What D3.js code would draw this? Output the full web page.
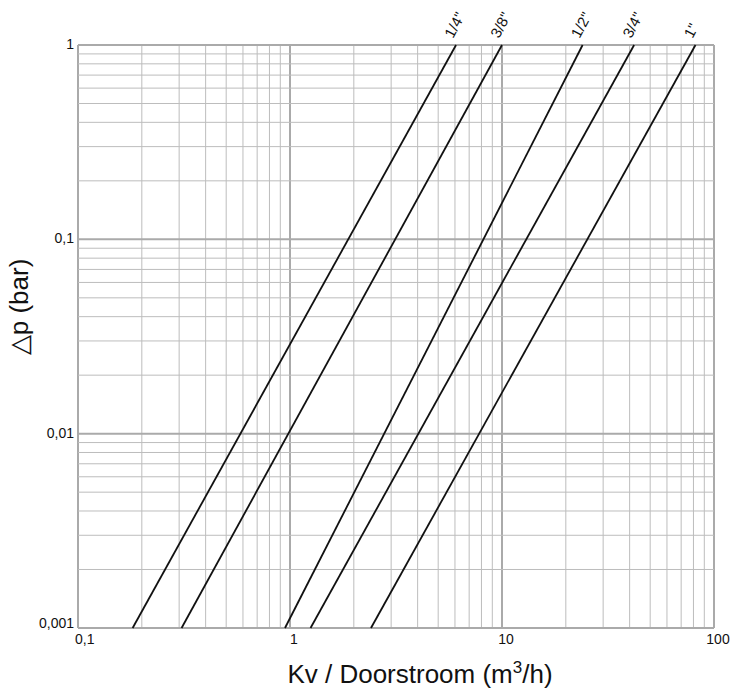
<!DOCTYPE html>
<html>
<head>
<meta charset="utf-8">
<script src="https://cdn.jsdelivr.net/npm/d3@7"></script>
<style>
  html, body { margin: 0; padding: 0; background: #fff; }
  svg { display: block; font-family: "Liberation Sans", Arial, sans-serif; }
</style>
</head>
<body>
<svg id="chart" width="731" height="689"></svg>
<script>
// Pressure drop vs. flow for each connection size
const xTickValues = [0.1, 1, 10, 100];
const xTickLabels = ["0,1", "1", "10", "100"];
const yTickValues = [0.001, 0.01, 0.1, 1];
const yTickLabels = ["0,001", "0,01", "0,1", "1"];

const sizes = ['1/4"', '3/8"', '1/2"', '3/4"', '1"'];
// flow (m3/h) where each curve meets the lower pressure limit (0,001 bar)
const flowAtLow = [0.181, 0.308, 0.947, 1.25, 2.41];
// flow (m3/h) where each curve meets the upper pressure limit (1 bar)
const flowAtHigh = [6.07, 10, 24, 42, 81.8];
const pressureLow = 0.001;
const pressureHigh = 1;

const svg = d3.select("#chart");
const plotLeft = 78, plotRight = 714, plotTop = 45, plotBottom = 628;

const x = d3.scaleLog().domain([0.1, 100]).range([plotLeft, plotRight]);
const y = d3.scaleLog().domain([0.001, 1]).range([plotBottom, plotTop]);

// grid: 1..9 within each decade
const xGrid = [], yGrid = [];
for (let e = -1; e < 2; e++) for (let m = 1; m <= 9; m++) xGrid.push(m * Math.pow(10, e));
xGrid.push(100);
for (let e = -3; e < 0; e++) for (let m = 1; m <= 9; m++) yGrid.push(m * Math.pow(10, e));
yGrid.push(1);
const isDecade = v => Math.abs(Math.log10(v) - Math.round(Math.log10(v))) < 1e-9;

const grid = svg.append("g");
grid.selectAll("line.vx").data(xGrid).join("line")
  .attr("x1", d => x(d)).attr("x2", d => x(d))
  .attr("y1", plotTop).attr("y2", plotBottom)
  .attr("stroke", d => isDecade(d) ? "#aaaaaa" : "#bdbdbd")
  .attr("stroke-width", d => isDecade(d) ? 2 : 1);
grid.selectAll("line.hy").data(yGrid).join("line")
  .attr("y1", d => y(d)).attr("y2", d => y(d))
  .attr("x1", plotLeft).attr("x2", plotRight)
  .attr("stroke", d => isDecade(d) ? "#aaaaaa" : "#bdbdbd")
  .attr("stroke-width", d => isDecade(d) ? 2 : 1);

// curves
const curves = sizes.map((s, i) => ({
  name: s,
  pts: [[flowAtLow[i], pressureLow], [flowAtHigh[i], pressureHigh]]
}));
const line = d3.line().x(d => x(d[0])).y(d => y(d[1]));
svg.append("g").selectAll("path").data(curves).join("path")
  .attr("d", d => line(d.pts))
  .attr("fill", "none")
  .attr("stroke", "#111")
  .attr("stroke-width", 1.8);

// size labels at the top end of each curve
svg.append("g").selectAll("text").data(curves).join("text")
  .attr("transform", d => `translate(${x(d.pts[1][0]) - 3},${plotTop - 6}) rotate(-62)`)
  .attr("font-size", 15)
  .attr("fill", "#111")
  .text(d => d.name);

// axis tick labels
svg.append("g").selectAll("text").data(xTickValues).join("text")
  .attr("x", (d, i) => i === 0 ? x(d) - 3 : x(d) + 4)
  .attr("y", plotBottom + 16)
  .attr("text-anchor", (d, i) => i === 0 ? "start" : "middle")
  .attr("font-size", 14)
  .attr("fill", "#111")
  .text((d, i) => xTickLabels[i]);

svg.append("g").selectAll("text").data(yTickValues).join("text")
  .attr("x", plotLeft - 4)
  .attr("y", (d, i) => i === 0 ? y(d) : y(d) + 4)
  .attr("text-anchor", "end")
  .attr("font-size", 14)
  .attr("fill", "#111")
  .text((d, i) => yTickLabels[i]);

// axis titles
const xt = svg.append("text")
  .attr("x", 420).attr("y", 683)
  .attr("text-anchor", "middle")
  .attr("font-size", 26)
  .attr("fill", "#111");
xt.append("tspan").text("Kv / Doorstroom (m");
xt.append("tspan").attr("font-size", 17).attr("dy", -10).text("3");
xt.append("tspan").attr("dy", 10).text("/h)");

svg.append("text")
  .attr("transform", "translate(28,307) rotate(-90)")
  .attr("text-anchor", "middle")
  .attr("font-size", 26)
  .attr("fill", "#111")
  .text("△p (bar)");
</script>
</body>
</html>
